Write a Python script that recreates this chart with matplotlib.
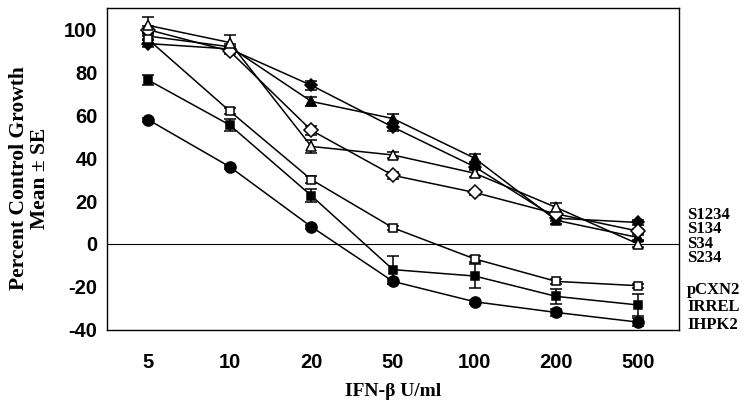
import matplotlib
matplotlib.use("Agg")
import matplotlib.pyplot as plt
import numpy as np

plt.rcParams["axes.unicode_minus"] = False

# IFN-beta doses (categorical x axis)
doses = ["5", "10", "20", "50", "100", "200", "500"]

# percent control growth
s1234 = [93.5, 91, 74, 54.5, 36, 12, 10]
s134 = [97, 92, 66.5, 58.5, 40, 11, 3]
s34 = [102, 94, 45.5, 41.5, 33, 17, 0]
s234 = [100, 90, 53, 32, 24, 14, 6]
pcxn2 = [95.5, 62, 30, 7.5, -7, -17.5, -19.5]
irrel = [76.5, 55.5, 22.5, -12, -15, -24.5, -28.5]
ihpk2 = [58, 36, 8, -17.5, -27, -32, -36.5]

# standard errors (rough)
s1234_se = [1.5, 1.5, 2, 2, 1.5, 1.5, 1]
s134_se = [1.5, 1.5, 2, 2, 2, 1.5, 1]
s34_se = [4, 3.5, 3, 1.5, 2, 2, 1.5]
s234_se = [1.5, 1.5, 2, 1.5, 1, 1, 1]
pcxn2_se = [1.5, 1.5, 1.5, 1, 1.5, 1, 1]
irrel_se = [2.5, 3, 3, 6.5, 5.5, 3.5, 5]
ihpk2_se = [1, 1, 1, 1, 1, 1.5, 2]

labels = ["S1234", "S134", "S34", "S234", "pCXN2", "IRREL", "IHPK2"]
label_y = [13.6, 7, 0, -6.5, -21.6, -29.6, -38]

series = [
    (s1234, s1234_se, "D", "black", 6),
    (s134, s134_se, "^", "black", 7),
    (s234, s234_se, "D", "white", 7),
    (s34, s34_se, "^", "white", 7),
    (pcxn2, pcxn2_se, "s", "white", 6),
    (irrel, irrel_se, "s", "black", 6),
    (ihpk2, ihpk2_se, "o", "black", 8),
]

fig = plt.figure(figsize=(7.5, 4.12), dpi=100)
ax = fig.add_axes([0.143, 0.2, 0.762, 0.78])

x = np.arange(len(doses))
for vals, se, mk, fc, ms in series:
    ax.errorbar(x, vals, yerr=se, color="black", lw=1.1, marker=mk,
                markerfacecolor=fc, markeredgecolor="black", markersize=ms,
                markeredgewidth=1.1, capsize=4, elinewidth=1.1, zorder=3)

ax.axhline(0, color="black", lw=0.8, zorder=1)

ax.set_xlim(-0.5, len(doses) - 0.5)
ax.set_ylim(-40, 110)
ax.set_xticks(x)
ax.set_xticklabels(doses)
ax.set_yticks([-40, -20, 0, 20, 40, 60, 80, 100])
ax.tick_params(length=0, labelsize=14.5)
for t in ax.get_xticklabels() + ax.get_yticklabels():
    t.set_fontweight("bold")
    t.set_family("Liberation Sans")
ax.tick_params(axis="x", pad=17)
ax.tick_params(axis="y", pad=7)

for sp in ax.spines.values():
    sp.set_linewidth(1.0)

ax.set_xlabel("IFN-\u03b2 U/ml", family="Liberation Serif", fontweight="bold",
              fontsize=14, labelpad=8)
ax.set_ylabel("Percent Control Growth\nMean \u00b1 SE", family="Liberation Serif",
              fontweight="bold", fontsize=15.5, linespacing=1.1)
ax.yaxis.set_label_coords(-0.1, 0.47)

for lab, ly in zip(labels, label_y):
    ax.text(1.015, ly, lab, transform=ax.get_yaxis_transform(), ha="left",
            va="center", family="Liberation Serif", fontweight="bold",
            fontsize=12, clip_on=False)

fig.savefig("out.png", dpi=100)
